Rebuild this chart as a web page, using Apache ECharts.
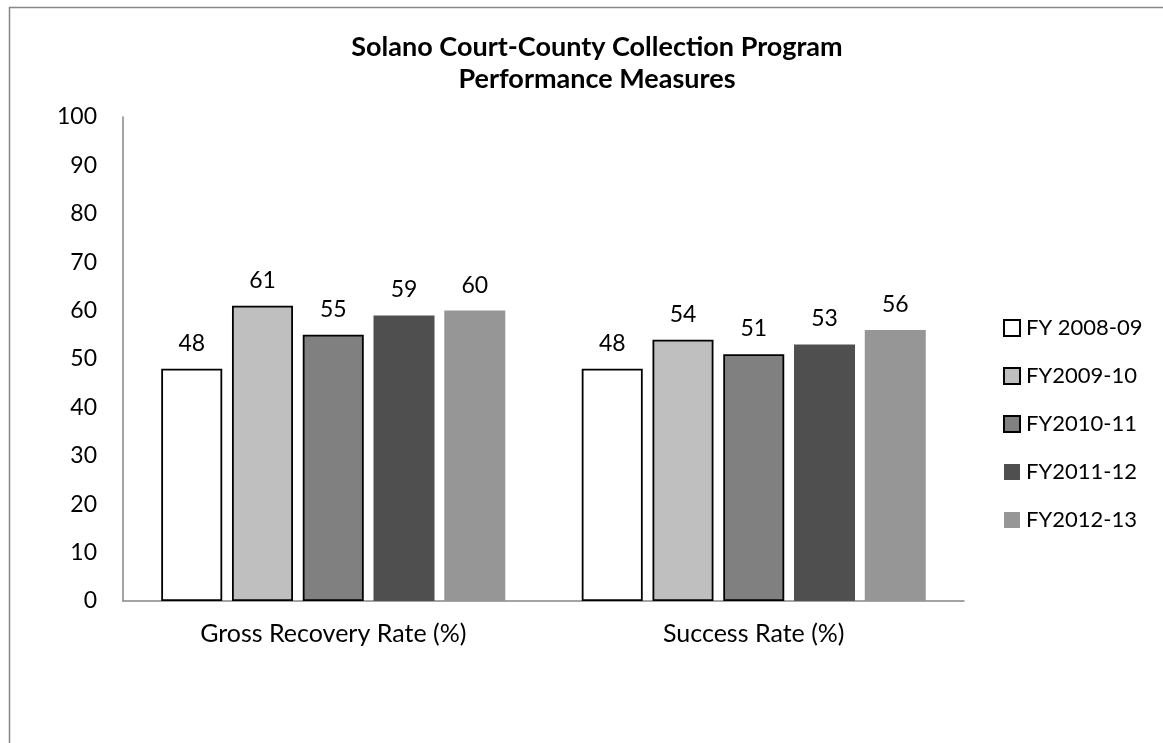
<!DOCTYPE html>
<html>
<head>
<meta charset="utf-8">
<script src="https://cdn.jsdelivr.net/npm/echarts@6/dist/echarts.min.js"></script>
<style>
html,body{margin:0;padding:0;background:#fff;}
#chart{width:1163px;height:743px;}
</style>
</head>
<body>
<div id="chart"></div>
<script>
const categories = ['Gross Recovery Rate (%)', 'Success Rate (%)'];
const seriesNames = ['FY 2008-09', 'FY2009-10', 'FY2010-11', 'FY2011-12', 'FY2012-13'];
const fy0809 = [48, 48];
const fy0910 = [61, 54];
const fy1011 = [55, 51];
const fy1112 = [59, 53];
const fy1213 = [60, 56];
const seriesValues = [fy0809, fy0910, fy1011, fy1112, fy1213];
const yTicks = [0, 10, 20, 30, 40, 50, 60, 70, 80, 90, 100];

const fills = ['#ffffff', '#bfbfbf', '#808080', '#4f4f4f', '#969696'];
const borders = ['#000000', '#000000', '#000000', null, null];
const FONT = 'Lato, "Open Sans", sans-serif';

const chart = echarts.init(document.getElementById('chart'));
chart.setOption({
  animation: false,
  backgroundColor: '#ffffff',
  title: {
    text: 'Solano Court-County Collection Program\nPerformance Measures',
    left: 592, top: 26, textAlign: 'center',
    textStyle: { fontFamily: FONT, fontWeight: 'bold', fontSize: 27, color: '#000', lineHeight: 32 }
  },
  graphic: [{
    type: 'rect', left: 7, top: 5, silent: true,
    shape: { width: 1200, height: 800 },
    style: { fill: 'none', stroke: '#878787', lineWidth: 1.5 }
  }],
  legend: {
    orient: 'vertical', left: 1003, top: 317, padding: 0,
    itemWidth: 16, itemHeight: 16, itemGap: 26,
    icon: 'rect',
    textStyle: { fontFamily: FONT, fontSize: 22, lineHeight: 22, color: '#000', padding: [0, 0, 0, 1] },
    data: seriesNames
  },
  grid: { left: 123, top: 117, width: 841, bottom: 142 },
  xAxis: {
    type: 'category', data: categories,
    axisLine: { lineStyle: { color: '#868686', width: 1.5 } },
    axisTick: { show: false },
    axisLabel: { fontFamily: FONT, fontSize: 25, color: '#000', margin: 20 }
  },
  yAxis: {
    type: 'value', min: 0, max: 100, interval: 10,
    axisLine: { show: true, lineStyle: { color: '#868686', width: 1.5 } },
    axisTick: { show: false },
    splitLine: { show: false },
    axisLabel: {
      fontFamily: FONT, fontSize: 23, color: '#000', margin: 26,
      formatter: v => yTicks.includes(v) ? String(v) : ''
    }
  },
  series: seriesNames.map((name, i) => ({
    name, type: 'bar', data: seriesValues[i],
    barWidth: 61, barGap: '16%',
    itemStyle: {
      color: fills[i],
      borderColor: borders[i] || fills[i],
      borderWidth: borders[i] ? 1.8 : 0
    },
    label: {
      show: true, position: 'top', distance: 14,
      fontFamily: FONT, fontSize: 23, color: '#000'
    }
  }))
});
</script>
</body>
</html>
